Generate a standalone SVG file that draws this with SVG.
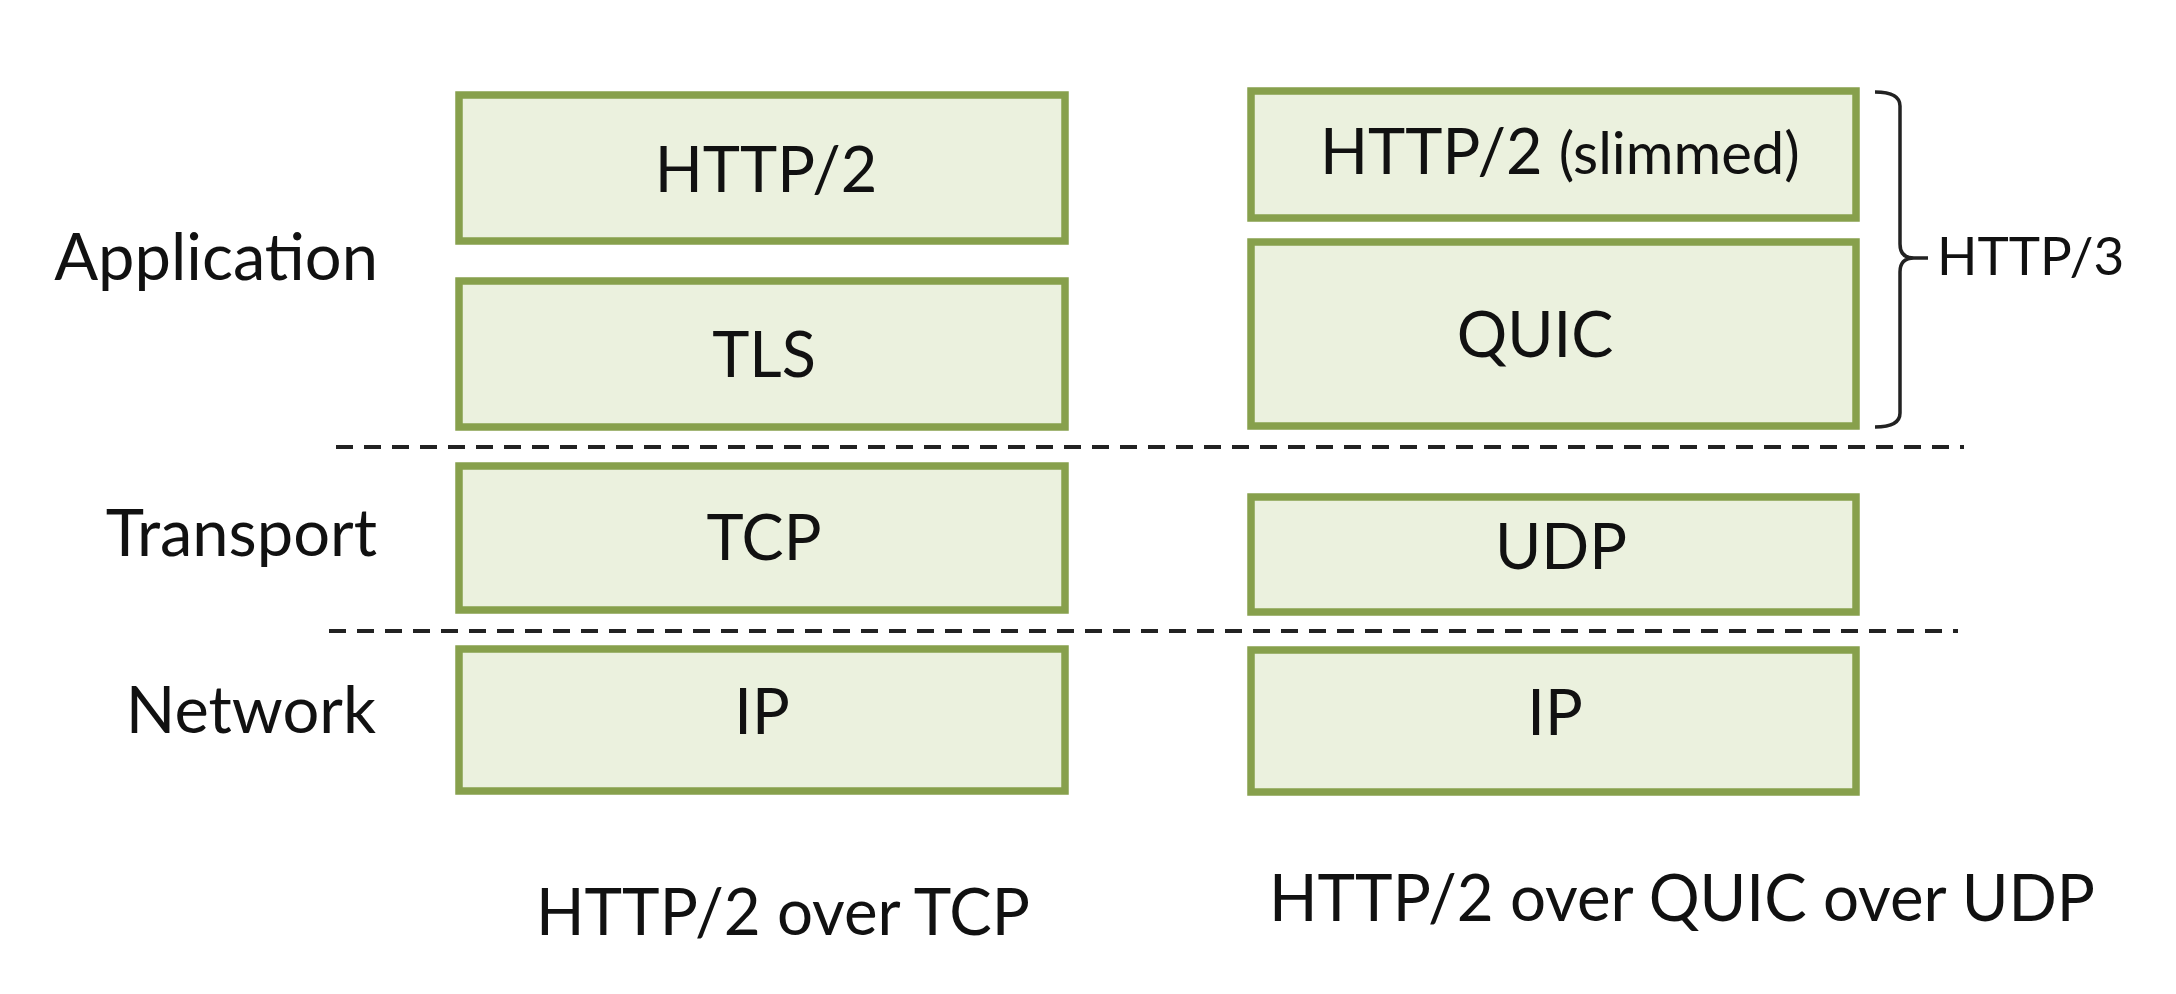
<svg xmlns="http://www.w3.org/2000/svg" width="2176" height="994" viewBox="0 0 2176 994">
  <style>
    .box { fill: #ebf1de; stroke: #87a04c; stroke-width: 7.5; }
    .t { font-family: Lato, "Open Sans", "Liberation Sans", sans-serif; fill: #111; }
    .bt { font-size: 63px; text-anchor: middle; }
    .lbl { font-size: 65px; text-anchor: end; }
    .cap { font-size: 65px; }
    .div { stroke: #222; stroke-width: 4; stroke-dasharray: 17 11; fill: none; }
  </style>
  <rect width="2176" height="994" fill="#ffffff"/>

  <g id="layer-labels">
    <text class="t lbl" x="378" y="280">Application</text>
    <text class="t lbl" x="377" y="556">Transport</text>
    <text class="t lbl" x="376" y="733">Network</text>
  </g>

  <g id="dividers">
    <line class="div" x1="336" y1="447" x2="1964" y2="447"/>
    <line class="div" x1="329" y1="631" x2="1958" y2="631"/>
  </g>

  <g id="node-http2">
    <rect class="box" x="459" y="95" width="606" height="146"/>
    <text class="t bt" x="766" y="192">HTTP/2</text>
  </g>
  <g id="node-tls">
    <rect class="box" x="459" y="281" width="606" height="146"/>
    <text class="t bt" x="764" y="377">TLS</text>
  </g>
  <g id="node-tcp">
    <rect class="box" x="459" y="466" width="606" height="144"/>
    <text class="t bt" x="764" y="560">TCP</text>
  </g>
  <g id="node-ip-left">
    <rect class="box" x="459" y="649" width="606" height="142"/>
    <text class="t bt" x="762" y="734">IP</text>
  </g>

  <g id="node-http2-slimmed">
    <rect class="box" x="1251" y="91" width="605" height="127"/>
    <text class="t" x="1320" y="174" font-size="63">HTTP/2 <tspan font-size="58">(slimmed)</tspan></text>
  </g>
  <g id="node-quic">
    <rect class="box" x="1251" y="242" width="605" height="184"/>
    <text class="t bt" x="1535" y="357">QUIC</text>
  </g>
  <g id="node-udp">
    <rect class="box" x="1251" y="497" width="605" height="115"/>
    <text class="t bt" x="1561" y="569">UDP</text>
  </g>
  <g id="node-ip-right">
    <rect class="box" x="1251" y="650" width="605" height="142"/>
    <text class="t bt" x="1555" y="735">IP</text>
  </g>

  <g id="brace-http3">
    <path d="M1875,92 Q1900,92 1900,106 L1900,244 Q1900,258 1914,258 L1928,258 M1914,258 Q1900,258 1900,272 L1900,413 Q1900,427 1875,427" fill="none" stroke="#222" stroke-width="3.5"/>
    <text class="t" x="1937" y="275" font-size="53">HTTP/3</text>
  </g>

  <g id="captions">
    <text class="t cap" x="536" y="935" textLength="494" lengthAdjust="spacingAndGlyphs">HTTP/2 over TCP</text>
    <text class="t cap" x="1269" y="921" textLength="826" lengthAdjust="spacingAndGlyphs">HTTP/2 over QUIC over UDP</text>
  </g>
</svg>
